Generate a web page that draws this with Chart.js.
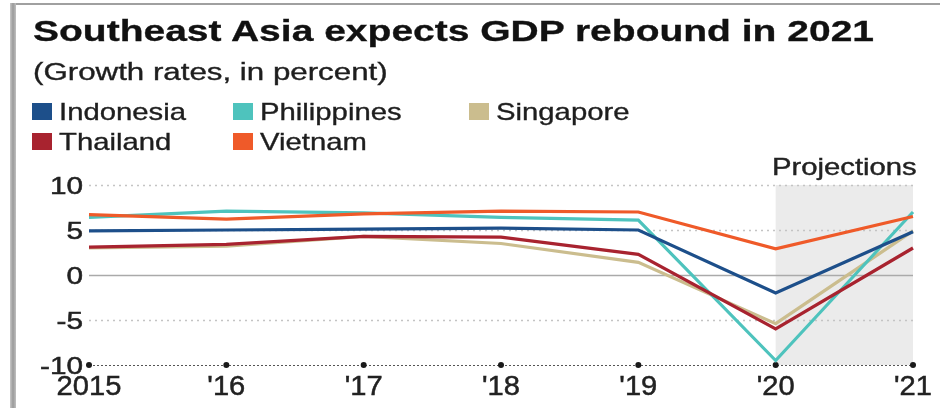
<!DOCTYPE html>
<html>
<head>
<meta charset="utf-8">
<script src="https://cdn.jsdelivr.net/npm/chart.js@4.4.1/dist/chart.umd.min.js"></script>
<style>
  html, body { margin: 0; padding: 0; background: #fff; }
  body { width: 940px; height: 408px; position: relative; overflow: hidden;
         font-family: "Liberation Sans", Arial, Helvetica, sans-serif; color: #1e1e1e; }
  #graf { position: absolute; left: 0; top: 0; }
  .txt { position: absolute; line-height: 1; white-space: nowrap; transform-origin: 0 0; -webkit-text-stroke: 0.35px #1e1e1e; }
  #titulo { left: 33px; top: 17px; font-size: 29px; font-weight: bold; color: #111; transform: scaleX(1.345); -webkit-text-stroke: 0.3px #111; }
  #subtitulo { left: 33px; top: 61px; font-size: 23px; transform: scaleX(1.36); }
  .leyenda { font-size: 24px; transform: scaleX(1.22); }
  .cuadro { position: absolute; width: 20px; height: 17px; }
  #marcoTop { position: absolute; left: 12px; top: 3px; width: 930px; height: 2px; background: #a0a0a0; }
  #marcoIzq { position: absolute; left: 10px; top: 3px; width: 6px; height: 410px;
              background: linear-gradient(to right, #c8c8c8, #9a9a9a 50%, #c0c0c0); }
</style>
</head>
<body>
<canvas id="graf" width="940" height="408"></canvas>
<div id="marcoTop"></div>
<div id="marcoIzq"></div>
<div class="txt" id="titulo">Southeast Asia expects GDP rebound in 2021</div>
<div class="txt" id="subtitulo">(Growth rates, in percent)</div>
<div id="leyenda"></div>

<script>
// Datos: crecimiento del PIB (%)
const years = ["2015", "'16", "'17", "'18", "'19", "'20", "'21"];
const indonesia   = [4.9, 5.0, 5.1, 5.2, 5.0, -2.0, 4.8];
const philippines = [6.4, 7.1, 6.9, 6.4, 6.1, -9.5, 7.0];
const singapore   = [3.0, 3.2, 4.3, 3.5, 1.4, -5.4, 4.9];
const thailand    = [3.1, 3.4, 4.3, 4.2, 2.3, -6.0, 3.0];
const vietnam     = [6.7, 6.2, 6.8, 7.1, 7.0, 2.9, 6.5];
const yTicks = [10, 5, 0, -5, -10];
const proyeccion = ["'20", "'21"];

const series = [
  { name: "Indonesia",   data: indonesia,   color: "#1d4f8a", orden: 3 },
  { name: "Philippines", data: philippines, color: "#4ec3bd", orden: 4 },
  { name: "Singapore",   data: singapore,   color: "#cbbd8e", orden: 5 },
  { name: "Thailand",    data: thailand,    color: "#a8232f", orden: 2 },
  { name: "Vietnam",     data: vietnam,     color: "#ef5a29", orden: 1 }
];

// Leyenda en dos filas
const posLeyenda = [
  [32, 120], [233, 120], [469, 120],
  [32, 150], [233, 150]
];
let leyenda = document.getElementById("leyenda");
series.forEach((s, i) => {
  let [x, base] = posLeyenda[i];
  leyenda.innerHTML +=
    `<div class="cuadro" style="left:${x}px;top:${base - 17}px;background:${s.color}"></div>` +
    `<div class="txt leyenda" style="left:${x + 27}px;top:${base - 20.3}px">${s.name}</div>`;
});

const FUENTE = '"Liberation Sans", Arial, Helvetica, sans-serif';

function textoEstirado(ctx, str, x, y, escala, align) {
  ctx.save();
  ctx.translate(x, y);
  ctx.scale(escala, 1);
  ctx.textAlign = align;
  ctx.textBaseline = "alphabetic";
  ctx.fillText(str, 0, 0);
  ctx.strokeText(str, 0, 0);
  ctx.restore();
}

// Zona sombreada, rejilla y etiquetas de ejes
const fondoPlugin = {
  id: "fondo",
  beforeDatasetsDraw(chart) {
    let ctx = chart.ctx;
    let xs = chart.scales.x, ys = chart.scales.y;
    let area = chart.chartArea;

    // proyecciones
    let x0 = xs.getPixelForValue(years.indexOf(proyeccion[0]));
    let x1 = xs.getPixelForValue(years.indexOf(proyeccion[1]));
    ctx.save();
    ctx.fillStyle = "#ebebeb";
    ctx.fillRect(x0, ys.getPixelForValue(10), x1 - x0, ys.getPixelForValue(-10) - ys.getPixelForValue(10));

    ctx.fillStyle = "#222";
    ctx.strokeStyle = "#222";
    ctx.lineWidth = 0.4;
    ctx.font = "24px " + FUENTE;
    textoEstirado(ctx, "Projections", (x0 + x1) / 2, ys.getPixelForValue(10) - 10, 1.22, "center");

    // rejilla horizontal
    yTicks.forEach(v => {
      let y = Math.round(ys.getPixelForValue(v)) + 0.5;
      ctx.beginPath();
      if (v === 0) {
        ctx.setLineDash([]);
        ctx.strokeStyle = "#aaaaaa";
        ctx.lineWidth = 1.5;
      } else if (v === -10) {
        ctx.setLineDash([2, 2]);
        ctx.strokeStyle = "#555";
        ctx.lineWidth = 1;
      } else {
        ctx.setLineDash([2, 4]);
        ctx.strokeStyle = "#c4c4c4";
        ctx.lineWidth = 1.5;
      }
      ctx.moveTo(area.left, y);
      ctx.lineTo(area.right, y);
      ctx.stroke();
    });
    ctx.setLineDash([]);

    // puntos sobre la base
    ctx.fillStyle = "#1a1a1a";
    years.forEach((yr, i) => {
      ctx.beginPath();
      ctx.arc(xs.getPixelForValue(i), ys.getPixelForValue(-10), 3, 0, Math.PI * 2);
      ctx.fill();
    });

    // etiquetas eje Y
    ctx.fillStyle = "#222";
    ctx.strokeStyle = "#222";
    ctx.lineWidth = 0.5;
    ctx.font = "24px " + FUENTE;
    yTicks.forEach(v => {
      textoEstirado(ctx, String(v), area.left - 6, ys.getPixelForValue(v) + 8.6, 1.24, "right");
    });

    // etiquetas eje X
    ctx.font = "28px " + FUENTE;
    years.forEach((yr, i) => {
      textoEstirado(ctx, yr, xs.getPixelForValue(i), area.bottom + 30, 1.04, "center");
    });
    ctx.restore();
  }
};

new Chart(document.getElementById("graf"), {
  type: "line",
  data: {
    labels: years,
    datasets: series.map(s => ({
      label: s.name,
      data: s.data,
      borderColor: s.color,
      backgroundColor: s.color,
      borderWidth: 3.2,
      pointRadius: 0,
      tension: 0,
      fill: false,
      order: s.orden
    }))
  },
  options: {
    responsive: false,
    animation: false,
    layout: { padding: { top: 185, right: 27, left: 0, bottom: 0 } },
    plugins: { legend: { display: false }, tooltip: { enabled: false } },
    scales: {
      x: {
        offset: false,
        grid: { display: false },
        border: { display: false },
        ticks: { display: false },
        afterFit: s => { s.height = 43; }
      },
      y: {
        min: -10, max: 10,
        ticks: { display: false, stepSize: 5 },
        grid: { display: false },
        border: { display: false },
        afterFit: s => { s.width = 89; }
      }
    }
  },
  plugins: [fondoPlugin]
});
</script>
</body>
</html>
